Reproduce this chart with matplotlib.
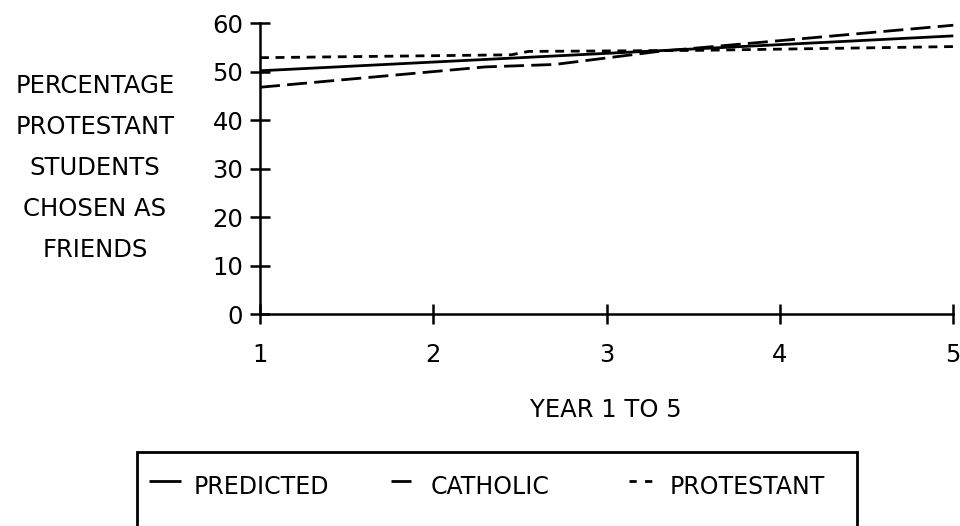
import matplotlib
matplotlib.use("Agg")
import matplotlib.pyplot as plt
from matplotlib.lines import Line2D
from matplotlib.patches import Rectangle

# ---- data ----
years_predicted = [1, 2, 3, 4, 5]
predicted = [50.2, 52.0, 53.8, 55.6, 57.4]

years_catholic = [1, 2.3, 2.7, 3.3, 5]
catholic = [46.8, 51.0, 51.5, 54.2, 59.6]

years_protestant = [1, 2.45, 2.55, 3.5, 5]
protestant = [52.9, 53.5, 54.2, 54.4, 55.2]

x_ticks = [1, 2, 3, 4, 5]
y_ticks = [0, 10, 20, 30, 40, 50, 60]
series_labels = ["PREDICTED", "CATHOLIC", "PROTESTANT"]
y_label = "PERCENTAGE\nPROTESTANT\nSTUDENTS\nCHOSEN AS\nFRIENDS"
x_label = "YEAR 1 TO 5"

plt.rcParams['font.family'] = ['DejaVu Sans']
FS = 17.5

fig = plt.figure(figsize=(9.6, 5.26), dpi=100)
W, H = 960, 526
left, right, top, bottom = 260, 953.3, 23.3, 314
ax = fig.add_axes([left / W, 1 - bottom / H, (right - left) / W, (bottom - top) / H])

lw = 2.0
styles = ['-', (0, (7.2, 2.6)), (0, (3.2, 2.4))]
ax.plot(years_predicted, predicted, color='black', lw=lw, clip_on=False,
        linestyle=styles[0], solid_capstyle='butt')
ax.plot(years_catholic, catholic, color='black', lw=lw, clip_on=False,
        linestyle=styles[1], dash_capstyle='butt')
ax.plot(years_protestant, protestant, color='black', lw=lw, clip_on=False,
        linestyle=styles[2], dash_capstyle='butt')

ax.set_xlim(1, 5)
ax.set_ylim(0, 60)
ax.set_xticks(x_ticks)
ax.set_yticks(y_ticks)
for s in ['top', 'right']:
    ax.spines[s].set_visible(False)
for s in ['left', 'bottom']:
    ax.spines[s].set_linewidth(1.8)
ax.tick_params(axis='both', direction='inout', length=14, width=1.8,
               labelsize=FS, colors='black')
ax.tick_params(axis='x', pad=14)
ax.tick_params(axis='y', pad=5)

fig.text(606 / W, 1 - 410 / H, x_label, ha='center', va='center', fontsize=FS)
fig.text(95 / W, 1 - 168 / H, y_label, ha='center', va='center', fontsize=FS,
         multialignment='center', linespacing=1.9)

# ---- legend box (drawn manually to match the reference layout) ----
box_l, box_r, box_t = 137, 857, 452
fig.add_artist(Rectangle((box_l / W, -0.05), (box_r - box_l) / W,
                         (1 - box_t / H) + 0.05, transform=fig.transFigure,
                         fill=False, edgecolor='black', lw=2.0, clip_on=False))
leg_y = 1 - 487 / H
handles_x = [(149, 181), (391, 413), (629, 652)]
text_x = [194, 431, 670]
handle_styles = ['-', (0, (7.2, 2.6)), (0, (2.6, 3.0))]
for (hx0, hx1), tx, st, lab in zip(handles_x, text_x, handle_styles, series_labels):
    fig.add_artist(Line2D([hx0 / W, hx1 / W], [leg_y + 0.012, leg_y + 0.012],
                          transform=fig.transFigure, color='black', lw=lw,
                          linestyle=st, dash_capstyle='butt', solid_capstyle='butt'))
    fig.text(tx / W, leg_y, lab, ha='left', va='center', fontsize=FS - 0.5)

fig.savefig("out.png", dpi=100, facecolor='white')
